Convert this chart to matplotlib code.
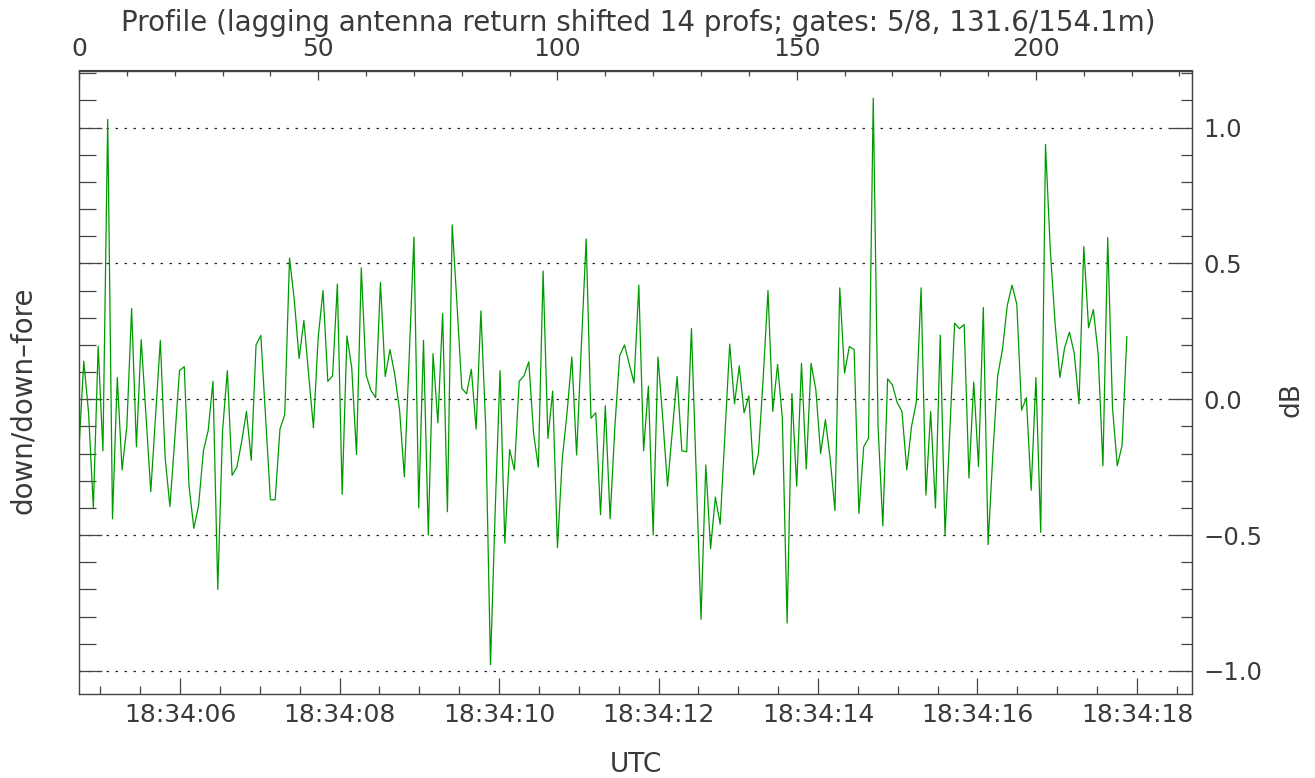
import matplotlib
matplotlib.use("Agg")
import matplotlib.pyplot as plt
from matplotlib.ticker import MultipleLocator, FuncFormatter, FixedLocator
import numpy as np

# ---- data (dB ratio down/down-fore per profile) ----
ratio_db = [
    -0.18, 0.14, -0.05, -0.40, 0.195, -0.19, 1.03, -0.44, 0.08, -0.26,
    -0.10, 0.334, -0.175, 0.22, -0.06, -0.34, -0.06, 0.217, -0.215, -0.395,
    -0.15, 0.105, 0.12, -0.32, -0.475, -0.39, -0.19, -0.115, 0.066, -0.70,
    -0.117, 0.105, -0.28, -0.25, -0.155, -0.045, -0.225, 0.20, 0.235, -0.07,
    -0.37, -0.37, -0.11, -0.057, 0.52, 0.364, 0.15, 0.29, 0.09, -0.105,
    0.23, 0.40, 0.066, 0.086, 0.424, -0.35, 0.233, 0.116, -0.203, 0.484,
    0.09, 0.033, 0.006, 0.43, 0.083, 0.183, 0.09, -0.04, -0.286, 0.15,
    0.597, -0.40, 0.217, -0.50, 0.168, -0.087, 0.316, -0.414, 0.642, 0.35,
    0.04, 0.02, 0.11, -0.11, 0.325, -0.10, -0.977, -0.40, 0.105, -0.53,
    -0.185, -0.26, 0.066, 0.086, 0.138, -0.125, -0.25, 0.472, -0.144, 0.03,
    -0.546, -0.22, -0.05, 0.156, -0.205, 0.20, 0.59, -0.07, -0.05, -0.425,
    -0.024, -0.44, -0.10, 0.16, 0.20, 0.13, 0.06, 0.42, -0.19, 0.048,
    -0.50, 0.156, -0.07, -0.32, -0.12, 0.084, -0.19, -0.193, 0.26, -0.27,
    -0.81, -0.242, -0.55, -0.36, -0.46, -0.13, 0.203, -0.017, 0.123, -0.05,
    0.012, -0.278, -0.20, 0.08, 0.40, -0.045, 0.128, -0.07, -0.824, 0.021,
    -0.32, 0.132, -0.257, 0.132, 0.035, -0.20, -0.075, -0.22, -0.41, 0.41,
    0.096, 0.194, 0.183, -0.42, -0.175, -0.144, 1.108, -0.10, -0.466, 0.075,
    0.053, -0.012, -0.045, -0.26, -0.10, -0.01, 0.41, -0.353, -0.045, -0.40,
    0.236, -0.50, -0.12, 0.28, 0.26, 0.275, -0.29, 0.063, -0.248, 0.338,
    -0.535, -0.20, 0.086, 0.183, 0.344, 0.42, 0.35, -0.04, 0.006, -0.335,
    0.08, -0.49, 0.938, 0.55, 0.28, 0.08, 0.19, 0.247, 0.17, -0.017,
    0.562, 0.263, 0.33, 0.168, -0.245, 0.595, -0.03, -0.245, -0.17, 0.23,
]

# time axis: seconds after 18:34:00
t_start = 4.733          # time of profile 0
dt_profile = 0.06        # seconds per profile
x_range_s = (4.733, 18.69)
y_range = (-1.083, 1.21)
profile_major = [0, 50, 100, 150, 200]
time_major = [6, 8, 10, 12, 14, 16, 18]
grid_levels = [-1.0, -0.5, 0.0, 0.5, 1.0]

title_text = "Profile (lagging antenna return shifted 14 profs; gates: 5/8, 131.6/154.1m)"
xlabel_text = "UTC"
ylabel_left = "down/down\u2013fore"
ylabel_right = "dB"

profiles = np.arange(len(ratio_db))
times = t_start + dt_profile * profiles

# ---- figure ----
W, H = 1315, 778
fig = plt.figure(figsize=(W / 100, H / 100), dpi=100)
L, R, T, B = 79, 1192, 70.5, 693.5
ax = fig.add_axes([L / W, 1 - B / H, (R - L) / W, (B - T) / H])

txt_color = "#3a3a3a"
frame_color = "#444444"
FONT = "DejaVu Sans"
plt.rcParams["font.family"] = FONT

ax.plot(times, ratio_db, color="#009a00", lw=0.9)
for g in grid_levels:
    ax.axhline(g, color="#222222", lw=0.9, linestyle=(0, (2.0, 5.2)), zorder=0)

ax.set_xlim(*x_range_s)
ax.set_ylim(*y_range)

for s in ax.spines.values():
    s.set_color(frame_color)
    s.set_linewidth(1.0)

# bottom: time axis
ax.xaxis.set_major_locator(FixedLocator(time_major))
ax.xaxis.set_minor_locator(MultipleLocator(0.5))
ax.xaxis.set_major_formatter(FuncFormatter(lambda s, pos: f"18:34:{int(round(s)):02d}"))
ax.tick_params(axis="x", which="major", direction="in", length=11.5, width=0.9,
               color=frame_color, labelsize=18, labelcolor=txt_color, pad=7, top=False)
ax.tick_params(axis="x", which="minor", direction="in", length=5.8, width=0.9,
               color=frame_color, top=False)

# left: ticks only
ax.yaxis.set_major_locator(FixedLocator(grid_levels))
ax.yaxis.set_minor_locator(MultipleLocator(0.1))
ax.tick_params(axis="y", which="major", direction="in", length=16.5, width=0.9,
               color=frame_color, labelleft=False, right=False)
ax.tick_params(axis="y", which="minor", direction="in", length=12.2, width=0.9,
               color=frame_color, right=False)

# top: profile axis
top = ax.secondary_xaxis("top", functions=(lambda t: (t - t_start) / dt_profile,
                                           lambda p: t_start + p * dt_profile))
top.xaxis.set_major_locator(FixedLocator(profile_major))
top.xaxis.set_minor_locator(MultipleLocator(10))
top.xaxis.set_major_formatter(FuncFormatter(lambda v, pos: f"{int(round(v))}"))
top.tick_params(axis="x", which="major", direction="in", length=7.5, width=0.9,
                color=frame_color, labelsize=18, labelcolor=txt_color, pad=7)
top.tick_params(axis="x", which="minor", direction="in", length=4.0, width=0.9,
                color=frame_color)
top.spines["top"].set_color(frame_color)

# right: labelled dB axis
right = ax.secondary_yaxis("right")
right.yaxis.set_major_locator(FixedLocator(grid_levels))
right.yaxis.set_minor_locator(MultipleLocator(0.1))
right.yaxis.set_major_formatter(FuncFormatter(lambda v, pos: f"{v:.1f}".replace("-", "\u2212")))
right.tick_params(axis="y", which="major", direction="in", length=16.5, width=0.9,
                  color=frame_color, labelsize=17.5, labelcolor=txt_color, pad=8)
right.tick_params(axis="y", which="minor", direction="in", length=8.0, width=0.9,
                  color=frame_color)
right.spines["right"].set_color(frame_color)

# texts
fig.text(638 / W, 1 - 31 / H, title_text, ha="center", va="baseline",
         fontsize=20, color=txt_color)
fig.text(636 / W, 1 - 765 / H, xlabel_text, ha="center", va="center",
         fontsize=19, color=txt_color)
fig.text(23 / W, 1 - 400 / H, ylabel_left, ha="center", va="center",
         rotation=90, fontsize=20, color=txt_color)
fig.text(1292 / W, 1 - 400 / H, ylabel_right, ha="center", va="center",
         rotation=90, fontsize=19, color=txt_color)

fig.savefig("out.png", dpi=100)
